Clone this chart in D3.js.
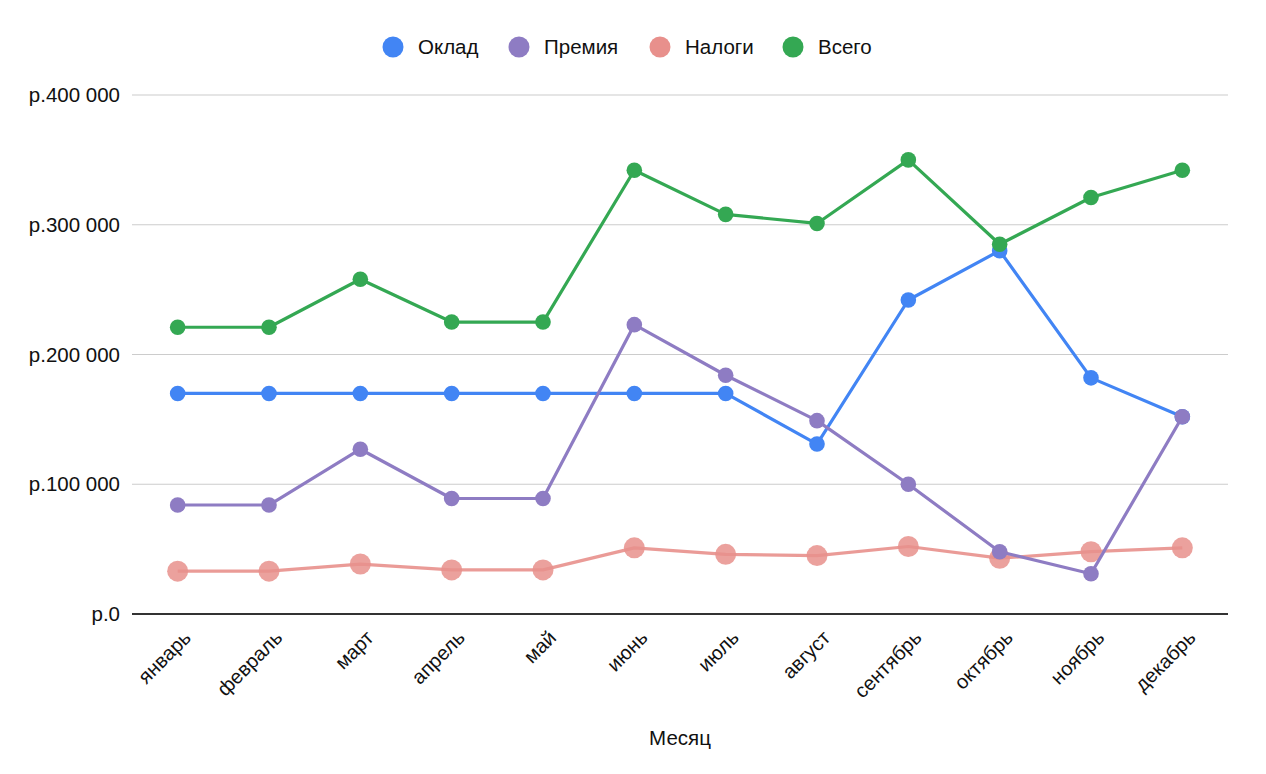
<!DOCTYPE html>
<html><head><meta charset="utf-8">
<script src="https://cdn.jsdelivr.net/npm/d3@7"></script>
<style>body{margin:0;background:#fff;font-family:"Liberation Sans",Arial,sans-serif;}</style>
</head><body>
<svg id="c" width="1266" height="774"></svg>
<script>
const months = ["январь","февраль","март","апрель","май","июнь","июль","август","сентябрь","октябрь","ноябрь","декабрь"];
const oklad  = [170000,170000,170000,170000,170000,170000,170000,131000,242000,280000,182000,152000];
const premia = [84000,84000,127000,89000,89000,223000,184000,149000,100000,48000,31000,152000];
const nalogi = [33000,33000,38500,34000,34000,51000,46000,45000,52000,43000,48000,51000];
const vsego  = [221000,221000,258000,225000,225000,342000,308000,301000,350000,285000,321000,342000];
const yTicks = [0,100000,200000,300000,400000];
const seriesNames = ["Оклад","Премия","Налоги","Всего"];
const colors = ["#4285F4","#8E7CC3","#E8908C","#34A853"];

(function(){
const svg = d3.select("#c");
const pl = 132, pr = 1228, pt = 95, pb = 614;
const FF = '"Liberation Sans", Arial, sans-serif';
const x = d3.scalePoint().domain(months).range([pl, pr]).padding(0.5);
const y = d3.scaleLinear().domain([0, 400000]).range([pb, pt]);

const fmt = v => "р." + (v === 0 ? "0" : d3.format(",")(v).replace(/,/g, " "));

svg.append("g").selectAll("line").data(yTicks.filter(d => d > 0)).join("line")
  .attr("x1", pl).attr("x2", pr).attr("y1", d => y(d)).attr("y2", d => y(d))
  .attr("stroke", "#cccccc").attr("stroke-width", 1.2);

const yAxis = d3.axisLeft(y).tickValues(yTicks).tickFormat(fmt).tickSize(0).tickPadding(12);
const ga = svg.append("g").attr("transform", `translate(${pl},0)`).call(yAxis);
ga.select(".domain").remove();
ga.selectAll("text").attr("font-size", 20.5).attr("fill", "#111").attr("font-family", FF);

svg.append("line").attr("x1", pl).attr("x2", pr).attr("y1", y(0)).attr("y2", y(0))
  .attr("stroke", "#333").attr("stroke-width", 2);

const xAxis = d3.axisBottom(x).tickSize(0).tickPadding(0);
const gx = svg.append("g").attr("transform", `translate(0,${pb})`).call(xAxis);
gx.select(".domain").remove();
gx.selectAll("text")
  .attr("font-size", 20).attr("fill", "#111").attr("font-family", FF)
  .attr("text-anchor", "end").attr("dy", 0).attr("y", 0)
  .attr("transform", "translate(14,25) rotate(-45)");

svg.append("text").attr("x", 680).attr("y", 745).attr("text-anchor", "middle")
  .attr("font-size", 20.5).attr("fill", "#111").attr("font-family", FF).text("Месяц");

const data = [oklad, premia, nalogi, vsego];
const line = d3.line().x((d, i) => x(months[i])).y(d => y(d));
const order = [2, 0, 1, 3];
order.forEach(si => {
  const g = svg.append("g");
  const isTax = si === 2;
  g.append("path").datum(data[si]).attr("d", line).attr("fill", "none")
    .attr("stroke", colors[si]).attr("stroke-width", 3.2).attr("stroke-linejoin", "round")
    .attr("opacity", isTax ? 0.9 : 1);
  g.selectAll("circle").data(data[si]).join("circle")
    .attr("cx", (d, i) => x(months[i])).attr("cy", d => y(d))
    .attr("r", isTax ? 10.5 : 7.8).attr("fill", colors[si])
    .attr("opacity", isTax ? 0.85 : 1);
});

const legX = [393, 519, 660, 793];
const lg = svg.append("g");
seriesNames.forEach((n, i) => {
  lg.append("circle").attr("cx", legX[i]).attr("cy", 47).attr("r", 10.5).attr("fill", colors[i]);
  lg.append("text").attr("x", legX[i] + 25).attr("y", 54).attr("font-size", 20.5).attr("fill", "#111").attr("font-family", FF).text(n);
});
})();
</script>
</body></html>
